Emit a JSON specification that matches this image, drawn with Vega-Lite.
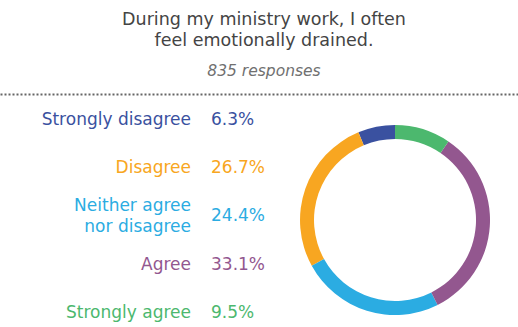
{
  "$schema": "https://vega.github.io/schema/vega-lite/v6.json",
  "width": 518,
  "height": 252,
  "padding": {"left": 0, "top": 11, "right": 0, "bottom": 0},
  "background": "white",
  "title": {
    "text": ["During my ministry work, I often", "feel emotionally drained."],
    "subtitle": "835 responses",
    "anchor": "middle",
    "frame": "group",
    "dx": 5,
    "font": "DejaVu Sans",
    "fontSize": 17.5,
    "fontWeight": "normal",
    "color": "#444444",
    "lineHeight": 21,
    "subtitleFont": "DejaVu Sans",
    "subtitleFontSize": 15.5,
    "subtitleFontStyle": "italic",
    "subtitleColor": "#707070",
    "subtitlePadding": 14,
    "offset": 15
  },
  "data": {
    "values": [
      {"answer": "Strongly disagree", "label": "Strongly disagree", "score": 1, "share": 0.063},
      {"answer": "Disagree", "label": "Disagree", "score": 2, "share": 0.267},
      {"answer": "Neither agree nor disagree", "label": "Neither agree\nnor disagree", "score": 3, "share": 0.244},
      {"answer": "Agree", "label": "Agree", "score": 4, "share": 0.331},
      {"answer": "Strongly agree", "label": "Strongly agree", "score": 5, "share": 0.095}
    ]
  },
  "encoding": {
    "color": {
      "field": "answer",
      "type": "nominal",
      "scale": {
        "domain": ["Strongly disagree", "Disagree", "Neither agree nor disagree", "Agree", "Strongly agree"],
        "range": ["#3A51A0", "#F8A621", "#2BACE2", "#93578F", "#4CB86E"]
      },
      "legend": null
    }
  },
  "layer": [
    {
      "transform": [{"filter": "datum.score != 3"}],
      "mark": {"type": "text", "align": "right", "baseline": "middle", "font": "DejaVu Sans", "fontSize": 17, "dx": -10},
      "encoding": {
        "x": {
          "datum": "labels",
          "type": "nominal",
          "scale": {"type": "point", "domain": ["labels", "donut"], "padding": 0.835, "align": 0.6204},
          "axis": {"orient": "top", "domain": true, "domainDash": [2, 2], "domainColor": "#666666", "domainWidth": 1.8, "domainCap": "butt", "ticks": false, "labels": false, "title": null, "grid": false}
        },
        "y": {
          "field": "answer",
          "type": "nominal",
          "scale": {"type": "point", "padding": 0.611, "align": 0.44, "domain": ["Strongly disagree", "Disagree", "Neither agree nor disagree", "Agree", "Strongly agree"]},
          "axis": null
        },
        "text": {"field": "label", "type": "nominal"}
      }
    },
    {
      "transform": [{"filter": "datum.score == 3"}],
      "mark": {"type": "text", "align": "right", "baseline": "middle", "font": "DejaVu Sans", "fontSize": 17, "dx": -10, "dy": -10.5, "lineBreak": "\n", "lineHeight": 21},
      "encoding": {
        "x": {"datum": "labels", "type": "nominal"},
        "y": {"field": "answer", "type": "nominal"},
        "text": {"field": "label", "type": "nominal"}
      }
    },
    {
      "mark": {"type": "text", "align": "left", "baseline": "middle", "font": "DejaVu Sans", "fontSize": 17, "dx": 10},
      "encoding": {
        "x": {"datum": "labels", "type": "nominal"},
        "y": {"field": "answer", "type": "nominal"},
        "text": {"field": "share", "type": "quantitative", "format": ".1%"}
      }
    },
    {
      "mark": {"type": "arc", "outerRadius": 95, "innerRadius": 81},
      "encoding": {
        "x": {"datum": "donut", "type": "nominal"},
        "theta": {"field": "share", "type": "quantitative", "stack": true},
        "order": {"field": "score", "type": "quantitative", "sort": "descending"}
      }
    }
  ],
  "config": {
    "view": {"stroke": null}
  }
}
